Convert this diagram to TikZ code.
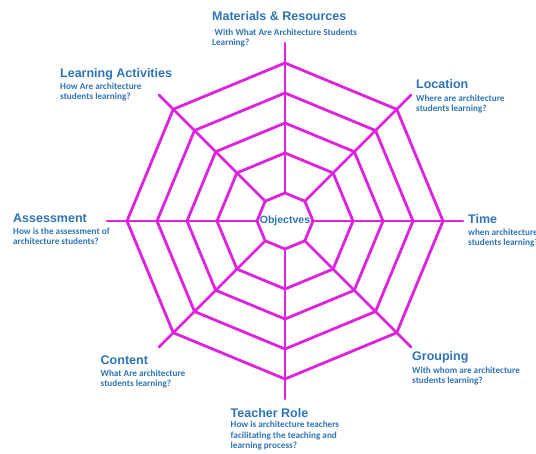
\documentclass[tikz,border=0pt]{standalone}
\usepackage{fontspec}
\setmainfont{Liberation Sans}
\newfontfamily\qfont{Carlito}
\usetikzlibrary{positioning}
\definecolor{webpink}{RGB}{222,34,222}
\definecolor{lblblue}{RGB}{46,116,181}
\tikzset{
    ttl/.style={ % heading at the end of a spoke
        anchor=base west,
        inner sep=0pt,
        text=lblblue,
        font=\fontsize{12.5}{14}\selectfont\bfseries
        },
    qst/.style={ % question under a heading
        anchor=north west,
        inner sep=0pt,
        align=left,
        text=lblblue,
        font=\qfont\fontsize{9.2}{10.3}\selectfont\bfseries
        },
    ring/.style={ % one octagon of the web
        draw=webpink,
        line width=2.8pt,
        line join=round
        },
    spoke/.style={
        ring,
        line cap=round
        }
}

\begin{document}
\begin{tikzpicture}[x=1pt,y=-1pt]
\useasboundingbox (0,0) rectangle (536,454);

%%%%% centre of the web
\coordinate (c) at (285,221);

%%%%% spokes
\foreach \a in {0,45,...,315}
    \draw[spoke] (c) ++(\a:28) -- ++(\a:150);

%%%%% rings
\foreach \r in {28,68,98,128,158}
    \draw[ring, shift={(c)}] (0:\r) \foreach \a in {45,90,...,315} {-- (\a:\r)} -- cycle;

%%%%% centre label
\node[inner sep=0pt, text=lblblue, font=\fontsize{10.5}{12}\selectfont\bfseries] (obj) at (c) {Objectves};

%%%%% top
\node[ttl] (t1) at (212,21) {Materials \& Resources};
\node[qst] (q1) at (212,29) {\hspace*{2.5pt}With What Are Architecture Students\\Learning?};

%%%%% upper left
\node[ttl] (t2) at (60,77.7) {Learning Activities};
\node[qst] (q2) at (60,82.5) {How Are architecture\\students learning?};

%%%%% upper right
\node[ttl] (t3) at (416,89) {Location};
\node[qst] (q3) at (416,95) {Where are architecture\\students learning?};

%%%%% left
\node[ttl] (t4) at (13,223) {Assessment};
\node[qst] (q4) at (13,227.5) {How is the assessment of\\architecture students?};

%%%%% right
\node[ttl] (t5) at (468,223.3) {Time};
\node[qst] (q5) at (468,229) {when architecture\\students learning?};

%%%%% lower left
\node[ttl] (t6) at (100.5,365) {Content};
\node[qst] (q6) at (100.5,370) {What Are architecture\\students learning?};

%%%%% lower right
\node[ttl] (t7) at (412,360.7) {Grouping};
\node[qst] (q7) at (412,366.8) {With whom are architecture\\students learning?};

%%%%% bottom
\node[ttl] (t8) at (230.5,417.3) {Teacher Role};
\node[qst] (q8) at (230.5,421.2) {How is architecture teachers\\facilitating the teaching and\\learning process?};

\end{tikzpicture}
\end{document}
